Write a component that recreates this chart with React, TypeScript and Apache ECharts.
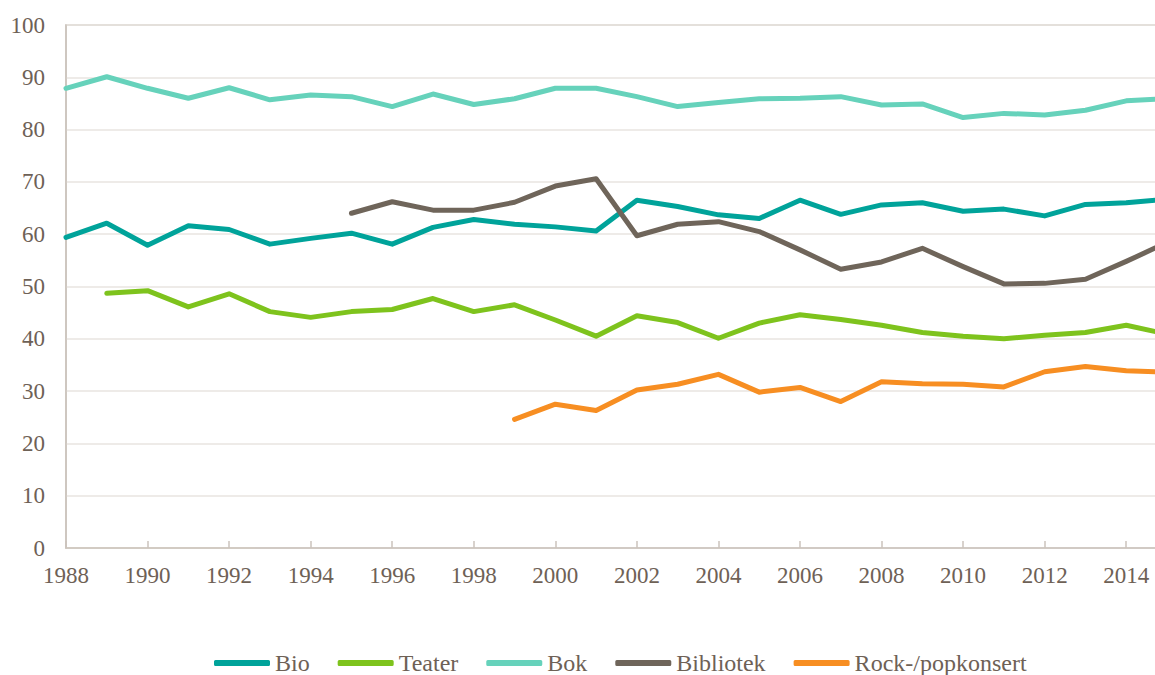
import React, { useEffect, useRef } from "react";
import * as echarts from "echarts";

const years = [
  "1988", "1989", "1990", "1991", "1992", "1993", "1994", "1995", "1996", "1997",
  "1998", "1999", "2000", "2001", "2002", "2003", "2004", "2005", "2006", "2007",
  "2008", "2009", "2010", "2011", "2012", "2013", "2014", "2015",
];

const bio = [
  59.4, 62.1, 57.9, 61.6, 60.9, 58.1, 59.2, 60.2, 58.1, 61.3,
  62.8, 61.9, 61.4, 60.6, 66.5, 65.3, 63.7, 63.0, 66.5, 63.8,
  65.6, 66.0, 64.4, 64.8, 63.5, 65.7, 66.0, 66.7,
];

const teater = [
  null, 48.7, 49.2, 46.1, 48.6, 45.2, 44.1, 45.2, 45.6, 47.7,
  45.2, 46.5, 43.6, 40.5, 44.4, 43.1, 40.1, 43.0, 44.6, 43.7,
  42.6, 41.2, 40.5, 40.0, 40.7, 41.2, 42.6, 40.9,
];

const bok = [
  87.9, 90.1, 87.9, 86.0, 88.0, 85.7, 86.6, 86.3, 84.4, 86.8,
  84.8, 85.9, 87.9, 87.9, 86.3, 84.4, 85.2, 85.9, 86.0, 86.3,
  84.7, 84.9, 82.3, 83.1, 82.8, 83.7, 85.5, 85.9,
];

const bibliotek = [
  null, null, null, null, null, null, null, 64.0, 66.2, 64.6,
  64.6, 66.1, 69.2, 70.6, 59.7, 61.9, 62.4, 60.5, 57.0, 53.3,
  54.7, 57.3, 53.8, 50.5, 50.6, 51.4, 54.8, 58.4,
];

const rock = [
  null, null, null, null, null, null, null, null, null, null,
  null, 24.6, 27.5, 26.3, 30.2, 31.3, 33.2, 29.8, 30.7, 28.0,
  31.8, 31.4, 31.3, 30.8, 33.7, 34.7, 33.9, 33.6,
];

const seriesNames = ["Bio", "Teater", "Bok", "Bibliotek", "Rock-/popkonsert"];
const seriesData = [bio, teater, bok, bibliotek, rock];
const colors = ["#00a39a", "#7ec31d", "#66d2bb", "#6f655a", "#f78e22"];

const textColor = "#6e6156";
const fontFamily = "Liberation Serif";

export default function App() {
  const ref = useRef<HTMLDivElement>(null);

  useEffect(() => {
    if (!ref.current) return;
    const chart = echarts.init(ref.current, undefined, { renderer: "svg" });
    chart.setOption({
      animation: false,
      backgroundColor: "#ffffff",
      color: colors,
      textStyle: { fontFamily },
      grid: {
        left: 66,
        top: 25,
        bottom: 127,
        right: 0,
        show: true,
        borderColor: "#cbc3bc",
        borderWidth: 1.5,
        backgroundColor: "transparent",
      },
      legend: {
        data: seriesNames,
        left: 214,
        top: 651,
        padding: 0,
        itemGap: 28,
        itemWidth: 56,
        itemHeight: 6,
        icon: "roundRect",
        textStyle: { color: textColor, fontSize: 24, fontFamily },
      },
      xAxis: {
        type: "category",
        data: years,
        boundaryGap: false,
        axisLine: { lineStyle: { color: "#cbc3bc", width: 1.5 } },
        axisTick: {
          show: true,
          inside: true,
          length: 7,
          interval: 1,
          lineStyle: { color: "#cbc3bc", width: 1.5 },
        },
        axisLabel: {
          interval: 1,
          color: textColor,
          fontSize: 23,
          fontFamily,
          margin: 16,
        },
        splitLine: { show: false },
      },
      yAxis: {
        type: "value",
        min: 0,
        max: 100,
        interval: 10,
        axisLine: { show: true, lineStyle: { color: "#cbc3bc", width: 1.5 } },
        axisTick: { show: false },
        axisLabel: {
          color: textColor,
          fontSize: 23,
          fontFamily,
          margin: 21,
        },
        splitLine: { show: true, lineStyle: { color: "#e9e5e1", width: 1.5 } },
      },
      series: seriesNames.map((name, i) => ({
        name,
        type: "line",
        data: seriesData[i],
        symbol: "none",
        connectNulls: false,
        lineStyle: { width: 5, color: colors[i], cap: "round", join: "round" },
        itemStyle: { color: colors[i] },
      })),
    });
    return () => chart.dispose();
  }, []);

  return (
    <div
      style={{
        position: "fixed",
        left: 0,
        top: 0,
        width: 1155,
        height: 675,
        overflow: "hidden",
        background: "#ffffff",
      }}
    >
      <div ref={ref} style={{ width: 1167, height: 675 }} />
    </div>
  );
}
